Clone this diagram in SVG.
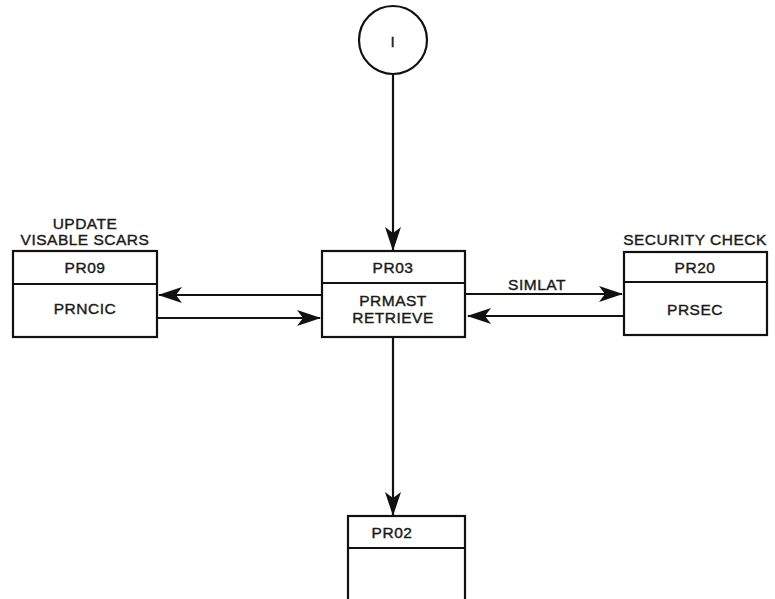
<svg xmlns="http://www.w3.org/2000/svg" width="775" height="599" viewBox="0 0 775 599">
<style>
text{font-family:"Liberation Sans","Open Sans",sans-serif;font-size:15.5px;fill:#1a1a1a;stroke:#1a1a1a;stroke-width:0.4;text-anchor:middle;letter-spacing:0.5px}
.box{fill:#fff;stroke:#111;stroke-width:2.2}
.ln{stroke:#111;stroke-width:2.2;fill:none}
</style>
<defs>
<marker id="ah" viewBox="0 0 24 16" refX="23" refY="8" markerWidth="24" markerHeight="16" markerUnits="userSpaceOnUse" orient="auto">
<path d="M0,0 L24,8 L0,16 L6,8 Z" fill="#111"/>
</marker>
</defs>
<rect width="775" height="599" fill="#fff"/>
<g id="connectors">
<line class="ln" x1="393" y1="74" x2="393" y2="250" marker-end="url(#ah)"/>
<line class="ln" x1="393" y1="337" x2="393" y2="515" marker-end="url(#ah)"/>
<line class="ln" x1="322" y1="295" x2="159" y2="295" marker-end="url(#ah)"/>
<line class="ln" x1="157" y1="318" x2="320" y2="318" marker-end="url(#ah)"/>
<line class="ln" x1="465" y1="294" x2="622" y2="294" marker-end="url(#ah)"/>
<line class="ln" x1="624" y1="316" x2="468" y2="316" marker-end="url(#ah)"/>
<text x="537" y="290">SIMLAT</text>
</g>
<g id="node-start">
<circle cx="393" cy="40" r="34" class="box"/>
<text x="393" y="47">I</text>
</g>
<g id="node-pr03">
<rect x="322" y="251" width="143" height="86" class="box"/>
<line class="ln" x1="322" y1="283" x2="465" y2="283"/>
<text x="393" y="273">PR03</text>
<text x="393" y="306">PRMAST</text>
<text x="393" y="323">RETRIEVE</text>
</g>
<g id="node-pr09">
<text x="85" y="229">UPDATE</text>
<text x="85" y="245">VISABLE SCARS</text>
<rect x="13" y="251" width="144" height="86" class="box"/>
<line class="ln" x1="13" y1="284" x2="157" y2="284"/>
<text x="85" y="273">PR09</text>
<text x="85" y="314">PRNCIC</text>
</g>
<g id="node-pr20">
<text x="695" y="245">SECURITY CHECK</text>
<rect x="624" y="252" width="143" height="83" class="box"/>
<line class="ln" x1="624" y1="282" x2="767" y2="282"/>
<text x="695" y="273">PR20</text>
<text x="695" y="315">PRSEC</text>
</g>
<g id="node-pr02">
<rect x="348" y="516" width="117" height="100" class="box"/>
<line class="ln" x1="348" y1="548" x2="465" y2="548"/>
<text x="392" y="538">PR02</text>
</g>
</svg>
